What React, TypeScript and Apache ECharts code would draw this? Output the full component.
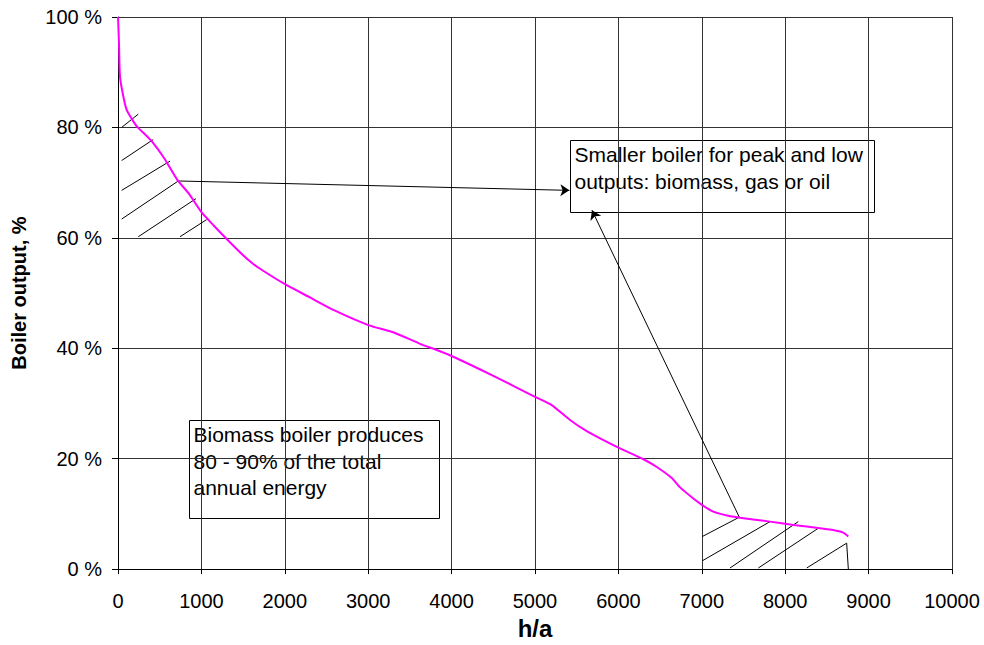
import React, { useEffect, useRef } from "react";
import * as echarts from "echarts";

// Load duration curve: hours per year (h/a) vs boiler output (%)
const hours = [0, 12, 24, 64, 104, 184, 236, 320, 404, 550, 711, 850, 1003, 1150, 1303, 1503, 1603, 1703, 2002, 2302, 2602, 3001, 3301, 3621, 3800, 4000, 4500, 5000, 5200, 5420, 5620, 6000, 6300, 6460, 6640, 6739, 6898, 7006, 7138, 7300, 7458, 7818, 8098, 8417, 8600, 8697, 8757];
const outputPct = [100, 95.2, 89.2, 85.6, 83.2, 81.1, 80, 78.8, 77.5, 74.5, 70.5, 68, 64.6, 62.2, 59.8, 56.8, 55.5, 54.4, 51.6, 49.2, 46.8, 44.2, 42.9, 40.8, 39.8, 38.6, 35, 31.2, 29.7, 27.0, 25.0, 22.0, 19.9, 18.5, 16.5, 14.8, 12.8, 11.6, 10.4, 9.7, 9.3, 8.6, 8.0, 7.4, 7.0, 6.6, 5.9];

// Hatching segments [x1, y1, x2, y2] in data units
const hatchPeak = [
  [44, 80.0, 243, 82.4],
  [44, 74.0, 422, 77.8],
  [44, 68.6, 624, 73.9],
  [44, 63.4, 723, 70.3],
  [243, 60.2, 935, 67.1],
  [743, 60.2, 1063, 63.3],
];
const hatchLow = [
  [7006, 5.9, 7450, 9.4],
  [7006, 1.5, 7818, 8.6],
  [7338, 0.2, 8157, 8.6],
  [7678, 0.2, 8397, 7.4],
  [8258, 0.2, 8737, 4.7],
  [8737, 4.7, 8757, 0],
];
// Arrows [fromX, fromY, toX, toY]
const arrows = [
  [723, 70.3, 5412, 68.6],
  [7450, 9.4, 5683, 65.0],
];

const xTicks = { min: 0, max: 10000, interval: 1000 };
const yTicks = { min: 0, max: 100, interval: 20 };

const note1 = "Smaller boiler for peak and low\noutputs: biomass, gas or oil";
const note2 = "Biomass boiler produces\n80 - 90% of the total\nannual energy";
const xName = "h/a";
const yName = "Boiler output, %";

const FONT = '"Liberation Sans", Arial, sans-serif';

export default function App() {
  const ref = useRef<HTMLDivElement>(null);
  useEffect(() => {
    if (!ref.current) return;
    const chart = echarts.init(ref.current, undefined, { renderer: "svg" });
    const seg = (arr: number[][]) =>
      arr.map((s) => ({ coords: [[s[0], s[1]], [s[2], s[3]]] }));
    chart.setOption({
      animation: false,
      backgroundColor: "#ffffff",
      textStyle: { fontFamily: FONT },
      grid: { left: 118, right: 32, top: 17, bottom: 74 },
      xAxis: {
        type: "value",
        min: xTicks.min,
        max: xTicks.max,
        interval: xTicks.interval,
        name: xName,
        nameLocation: "middle",
        nameGap: 44,
        nameTextStyle: { fontSize: 24, fontWeight: "bold", color: "#000", fontFamily: FONT },
        axisLine: { show: true, lineStyle: { color: "#000", width: 1 } },
        axisTick: { show: true, inside: false, length: 5, lineStyle: { color: "#000" } },
        axisLabel: { color: "#000", fontSize: 20, margin: 22, fontFamily: FONT, formatter: (v: number) => String(v) },
        splitLine: { show: true, lineStyle: { color: "#333", width: 1 } },
      },
      yAxis: {
        type: "value",
        min: yTicks.min,
        max: yTicks.max,
        interval: yTicks.interval,
        name: yName,
        nameLocation: "middle",
        nameGap: 89,
        nameRotate: 90,
        nameTextStyle: { fontSize: 20, fontWeight: "bold", color: "#000", fontFamily: FONT },
        axisLine: { show: true, lineStyle: { color: "#000", width: 1 } },
        axisTick: { show: true, inside: false, length: 6, lineStyle: { color: "#000" } },
        axisLabel: { color: "#000", fontSize: 20, margin: 16, formatter: "{value} %", fontFamily: FONT },
        splitLine: { show: true, lineStyle: { color: "#333", width: 1 } },
      },
      series: [
        {
          type: "lines",
          coordinateSystem: "cartesian2d",
          silent: true,
          z: 3,
          lineStyle: { color: "#000", width: 1, opacity: 1 },
          data: [...seg(hatchPeak), ...seg(hatchLow)],
        },
        {
          type: "lines",
          coordinateSystem: "cartesian2d",
          silent: true,
          z: 3,
          symbol: ["none", "arrow"],
          symbolSize: 9,
          lineStyle: { color: "#000", width: 1, opacity: 1 },
          data: seg(arrows),
        },
        {
          type: "line",
          name: "Boiler output",
          data: hours.map((h, i) => [h, outputPct[i]]),
          showSymbol: false,
          smooth: 0.2,
          z: 4,
          lineStyle: { color: "#ff00ff", width: 2 },
          itemStyle: { color: "#ff00ff" },
        },
      ],
      graphic: [
        {
          type: "group",
          left: 570,
          top: 140,
          z: 10,
          children: [
            { type: "rect", shape: { x: 0, y: 0, width: 304, height: 72 }, style: { fill: "#fff", stroke: "#000", lineWidth: 1 } },
            { type: "text", x: 4, y: 1, style: { text: note1, font: `21px ${FONT}`, fill: "#000", lineHeight: 26.5, verticalAlign: "top" } },
          ],
        },
        {
          type: "group",
          left: 189,
          top: 420,
          z: 10,
          children: [
            { type: "rect", shape: { x: 0, y: 0, width: 250, height: 98 }, style: { fill: "#fff", stroke: "#000", lineWidth: 1 } },
            { type: "text", x: 4, y: 1, style: { text: note2, font: `21px ${FONT}`, fill: "#000", lineHeight: 26.5, verticalAlign: "top" } },
          ],
        },
      ],
    });
    return () => chart.dispose();
  }, []);
  return (
    <div
      ref={ref}
      style={{ position: "absolute", left: 0, top: 0, width: 984, height: 645 }}
    />
  );
}
